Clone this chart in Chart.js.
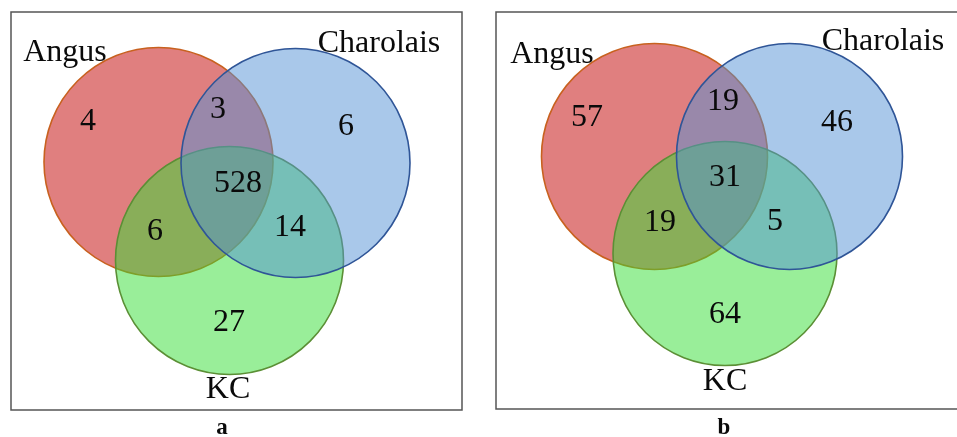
<!DOCTYPE html>
<html>
<head>
<meta charset="utf-8">
<script src="https://cdn.jsdelivr.net/npm/chart.js@4.4.1/dist/chart.umd.min.js"></script>
<style>
  html, body { margin: 0; padding: 0; background: #fff; }
  #wrap { width: 957px; height: 437px; }
</style>
</head>
<body>
<div id="wrap"><canvas id="venn" width="957" height="437"></canvas></div>
<script>
// ─── Data ───────────────────────────────────────────────────────────────────

const setNames = ['Angus', 'Charolais', 'KC'];
const panelLetters = ['a', 'b'];
// region order: Angus only, Angus∩Charolais, Charolais only, all three,
//               Angus∩KC, Charolais∩KC, KC only
const regionNames = ['A', 'AC', 'C', 'ACK', 'AK', 'CK', 'K'];
const countsA = [4, 3, 6, 528, 6, 14, 27];
const countsB = [57, 19, 46, 31, 19, 5, 64];

// ─── Layout (canvas-space units, fed through the chart scales) ─────────────

const circles = {
  Angus:     [{ x: 158.5, y: 162,   r: 114.5 }, { x: 654.5, y: 156.5, r: 113 }],
  Charolais: [{ x: 295.5, y: 163,   r: 114.5 }, { x: 789.5, y: 156.5, r: 113 }],
  KC:        [{ x: 229.5, y: 260.5, r: 114 },   { x: 725,   y: 253.5, r: 112 }]
};

const regionPos = [
  [[88, 122], [218, 110], [346, 127], [238, 184], [155, 232], [290, 228], [229, 323]],
  [[587, 118], [723, 102], [837, 123], [725, 178], [660, 223], [775, 222], [725, 315]]
];

const setLabelPos = [
  { Angus: [65, 61], Charolais: [379, 52], KC: [228, 398] },
  { Angus: [552, 63], Charolais: [883, 50], KC: [725, 390] }
];

const panelBoxes = [
  { x0: 11, y0: 12, x1: 462, y1: 410 },
  { x0: 496, y0: 12, x1: 962, y1: 409 }
];
const letterPos = [[222, 434], [724, 434]];

const styles = {
  Angus:     { fill: 'rgba(193, 0, 0, 0.5)',    stroke: '#c8611f', order: 3 },
  Charolais: { fill: 'rgba(83, 145, 213, 0.5)', stroke: '#2f5597', order: 1 },
  KC:        { fill: 'rgba(51, 221, 51, 0.5)',  stroke: '#5b8f35', order: 2 }
};

const SERIF = '"Liberation Serif", "Times New Roman", serif';

// ─── Text + frame plugin ────────────────────────────────────────────────────

const vennText = {
  id: 'vennText',
  beforeDatasetsDraw(chart) {
    const { ctx, scales: { x, y } } = chart;
    ctx.save();
    ctx.strokeStyle = '#555';
    ctx.lineWidth = 1.5;
    panelBoxes.forEach(b => {
      const px0 = x.getPixelForValue(b.x0), px1 = x.getPixelForValue(b.x1);
      const py0 = y.getPixelForValue(b.y0), py1 = y.getPixelForValue(b.y1);
      ctx.strokeRect(px0, py0, px1 - px0, py1 - py0);
    });
    ctx.restore();
  },
  afterDatasetsDraw(chart) {
    const { ctx, scales: { x, y } } = chart;
    ctx.save();
    ctx.fillStyle = '#0a0a0a';
    ctx.textAlign = 'center';

    // region counts
    ctx.font = '32px ' + SERIF;
    ctx.textBaseline = 'middle';
    [countsA, countsB].forEach((counts, p) => {
      counts.forEach((v, i) => {
        const [vx, vy] = regionPos[p][i];
        ctx.fillText(String(v), x.getPixelForValue(vx), y.getPixelForValue(vy));
      });
    });

    // set names
    ctx.font = '32px ' + SERIF;
    ctx.textBaseline = 'alphabetic';
    setLabelPos.forEach(pos => {
      setNames.forEach(name => {
        const [vx, vy] = pos[name];
        ctx.fillText(name, x.getPixelForValue(vx), y.getPixelForValue(vy));
      });
    });

    // panel letters
    ctx.font = 'bold 23px ' + SERIF;
    panelLetters.forEach((l, p) => {
      const [vx, vy] = letterPos[p];
      ctx.fillText(l, x.getPixelForValue(vx), y.getPixelForValue(vy));
    });
    ctx.restore();
  }
};

// ─── Chart ──────────────────────────────────────────────────────────────────

// circle radius in data units -> pixels, via the x scale
function radiusFromScale(c) {
  const s = c.chart.scales.x;
  if (!s || !c.raw) return 0;
  return s.getPixelForValue(c.raw.rad) - s.getPixelForValue(0);
}

const datasets = setNames.map(name => ({
  label: name,
  data: circles[name].map(c => ({ x: c.x, y: c.y, rad: c.r })),
  showLine: false,
  pointBackgroundColor: styles[name].fill,
  pointBorderColor: styles[name].stroke,
  pointBorderWidth: 1.6,
  pointRadius: radiusFromScale,
  pointHoverRadius: radiusFromScale,
  clip: false,
  order: styles[name].order
}));

new Chart(document.getElementById('venn'), {
  type: 'scatter',
  data: { datasets },
  plugins: [vennText],
  options: {
    responsive: false,
    animation: false,
    events: [],
    layout: { padding: 0 },
    plugins: {
      legend: { display: false },
      tooltip: { enabled: false }
    },
    scales: {
      x: { type: 'linear', min: 0, max: 957, display: false },
      y: { type: 'linear', min: 0, max: 437, reverse: true, display: false }
    }
  }
});
</script>
</body>
</html>
